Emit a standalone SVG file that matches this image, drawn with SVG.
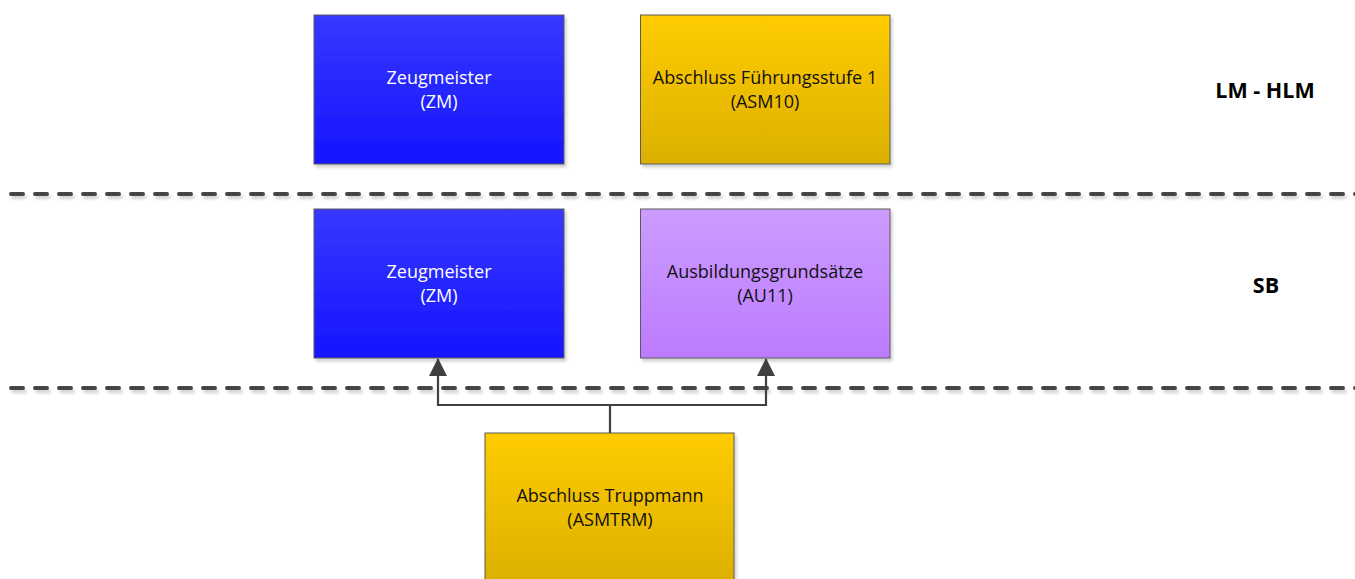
<svg xmlns="http://www.w3.org/2000/svg" width="1355" height="579" viewBox="0 0 1355 579">
<defs>
<linearGradient id="gBlue" x1="0" y1="0" x2="0" y2="1"><stop offset="0" stop-color="#3838ff"/><stop offset="1" stop-color="#1414ff"/></linearGradient>
<linearGradient id="gYellow" x1="0" y1="0" x2="0" y2="1"><stop offset="0" stop-color="#ffcc00"/><stop offset="1" stop-color="#dcb000"/></linearGradient>
<linearGradient id="gPurple" x1="0" y1="0" x2="0" y2="1"><stop offset="0" stop-color="#cc9cff"/><stop offset="1" stop-color="#bd7bff"/></linearGradient>
<filter id="sh" x="-5%" y="-5%" width="115%" height="120%"><feDropShadow dx="2" dy="3" stdDeviation="1.5" flood-color="#000" flood-opacity="0.18"/></filter>
<filter id="shl" filterUnits="userSpaceOnUse" x="0" y="0" width="1355" height="579"><feDropShadow dx="2" dy="3" stdDeviation="1.5" flood-color="#000" flood-opacity="0.18"/></filter>
<marker id="arr" viewBox="0 0 18 18" refX="17" refY="9" markerWidth="18" markerHeight="18" markerUnits="userSpaceOnUse" orient="auto"><path d="M0,0 L18,9 L0,18 Z" fill="#404040"/></marker>
</defs>
<style>
.box{stroke:#5a5a5a;stroke-width:1;filter:url(#sh)}
.t{font-family:"Open Sans","Liberation Sans",sans-serif;font-size:18px;text-anchor:middle}
.w{fill:#ffffff}
.k{fill:#111111}
.lbl{font-family:"Open Sans","Liberation Sans",sans-serif;font-size:21.5px;font-weight:bold;fill:#000;text-anchor:middle}
.dash{stroke:#444;stroke-width:4;stroke-linecap:round;stroke-dasharray:12 12;fill:none}
.conn{stroke:#404040;stroke-width:2.2;fill:none}
</style>
<rect width="1355" height="579" fill="#ffffff"/>
<g id="separators" filter="url(#shl)">
<line class="dash" x1="11" y1="194" x2="1370" y2="194"/>
<line class="dash" x1="11" y1="388" x2="1370" y2="388"/>
</g>
<g id="node-zm-top">
<rect class="box" x="314" y="15" width="250" height="149" fill="url(#gBlue)"/>
<text class="t w" x="439" y="84">Zeugmeister</text>
<text class="t w" x="439" y="108">(ZM)</text>
</g>
<g id="node-asm10">
<rect class="box" x="640.500" y="15" width="249.5" height="149" fill="url(#gYellow)"/>
<text class="t k" x="765" y="84">Abschluss Führungsstufe 1</text>
<text class="t k" x="765" y="108">(ASM10)</text>
</g>
<g id="node-zm-sb">
<rect class="box" x="314" y="209" width="250" height="149" fill="url(#gBlue)"/>
<text class="t w" x="439" y="278">Zeugmeister</text>
<text class="t w" x="439" y="302">(ZM)</text>
</g>
<g id="node-au11">
<rect class="box" x="640.500" y="209" width="249.5" height="149" fill="url(#gPurple)"/>
<text class="t k" x="765" y="278">Ausbildungsgrundsätze</text>
<text class="t k" x="765" y="302">(AU11)</text>
</g>
<g id="node-asmtrm">
<rect class="box" x="485" y="433" width="249" height="150" fill="url(#gYellow)"/>
<text class="t k" x="610" y="502">Abschluss Truppmann</text>
<text class="t k" x="610" y="526">(ASMTRM)</text>
</g>
<g id="labels">
<text class="lbl" x="1265" y="98">LM - HLM</text>
<text class="lbl" x="1266" y="293">SB</text>
</g>
<g id="connectors">
<polyline class="conn" points="610,433 610,405 438,405 438,359" marker-end="url(#arr)"/>
<polyline class="conn" points="610,405 766,405 766,359" marker-end="url(#arr)"/>
</g>
</svg>
